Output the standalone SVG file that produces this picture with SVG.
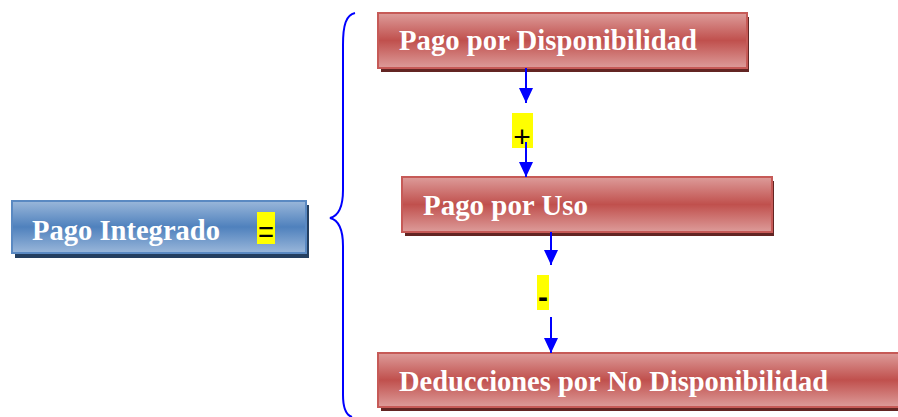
<svg xmlns="http://www.w3.org/2000/svg" width="898" height="417" viewBox="0 0 898 417">
<defs>
<linearGradient id="gr" x1="0" y1="0" x2="0" y2="1">
<stop offset="0" stop-color="#dd9c9a"/>
<stop offset="0.5" stop-color="#c0504d"/>
<stop offset="1" stop-color="#dd9c9a"/>
</linearGradient>
<linearGradient id="gb" x1="0" y1="0" x2="0" y2="1">
<stop offset="0" stop-color="#9ab7da"/>
<stop offset="0.5" stop-color="#4f81bd"/>
<stop offset="1" stop-color="#9ab7da"/>
</linearGradient>
<marker id="ah" viewBox="0 0 15 14" refX="15" refY="7" markerWidth="15" markerHeight="14" markerUnits="userSpaceOnUse" orient="auto">
<path d="M0,0 L15,7 L0,14 Z" fill="#0000ff"/>
</marker>
<style>
.rs{fill:#632523}
.rb{fill:url(#gr);stroke:#c65a57;stroke-width:2}
.bs{fill:#243f60}
.bb{fill:url(#gb);stroke:#5a89c2;stroke-width:2}
.t{font-family:"Liberation Serif","Times New Roman",serif;font-weight:bold;font-size:30px;fill:#ffffff}
.hl{fill:#ffff00}
.op{font-family:"Liberation Sans",Arial,sans-serif;font-size:30px;fill:#000000}
.ln{stroke:#0000ff;stroke-width:2;fill:none}
</style>
</defs>
<g id="pago-integrado">
<rect class="bs" x="15" y="205" width="294" height="53"/>
<rect class="bb" x="12" y="201" width="294" height="52"/>
<text class="t" x="32" y="240" textLength="188" lengthAdjust="spacingAndGlyphs">Pago Integrado</text>
<rect class="hl" x="257" y="212" width="18" height="32"/>
<text class="op" x="266" y="242" text-anchor="middle" textLength="16" lengthAdjust="spacingAndGlyphs">=</text>
</g>
<g id="pago-disponibilidad">
<rect class="rs" x="381" y="17" width="368" height="55"/>
<rect class="rb" x="378" y="13" width="369" height="55"/>
<text class="t" x="399" y="50" textLength="298" lengthAdjust="spacingAndGlyphs">Pago por Disponibilidad</text>
</g>
<g id="pago-uso">
<rect class="rs" x="405" y="181" width="369" height="55"/>
<rect class="rb" x="402" y="177" width="370" height="55"/>
<text class="t" x="423" y="215" textLength="165" lengthAdjust="spacingAndGlyphs">Pago por Uso</text>
</g>
<g id="deducciones">
<rect class="rs" x="381" y="357" width="530" height="54"/>
<rect class="rb" x="378" y="353" width="530" height="54"/>
<text class="t" x="399" y="391" textLength="429" lengthAdjust="spacingAndGlyphs">Deducciones por No Disponibilidad</text>
</g>
<g id="op-plus">
<rect class="hl" x="512" y="113" width="21" height="35"/>
<text class="op" x="522" y="147" text-anchor="middle">+</text>
</g>
<g id="op-minus">
<rect class="hl" x="537" y="275" width="12" height="35"/>
<text class="op" x="543" y="307" text-anchor="middle" font-weight="bold">-</text>
</g>
<g id="connectors">
<path class="ln" d="M355,13 C346,15 343,25 343,45 L343,190 C343,208 338,216 330,218 C338,220 343,228 343,246 L343,395 C343,408 346,415 352,417"/>
<line class="ln" x1="526" y1="68" x2="526" y2="103" marker-end="url(#ah)"/>
<line class="ln" x1="526" y1="142" x2="526" y2="177" marker-end="url(#ah)"/>
<line class="ln" x1="551" y1="232" x2="551" y2="265" marker-end="url(#ah)"/>
<line class="ln" x1="551" y1="317" x2="551" y2="353" marker-end="url(#ah)"/>
</g>
</svg>
